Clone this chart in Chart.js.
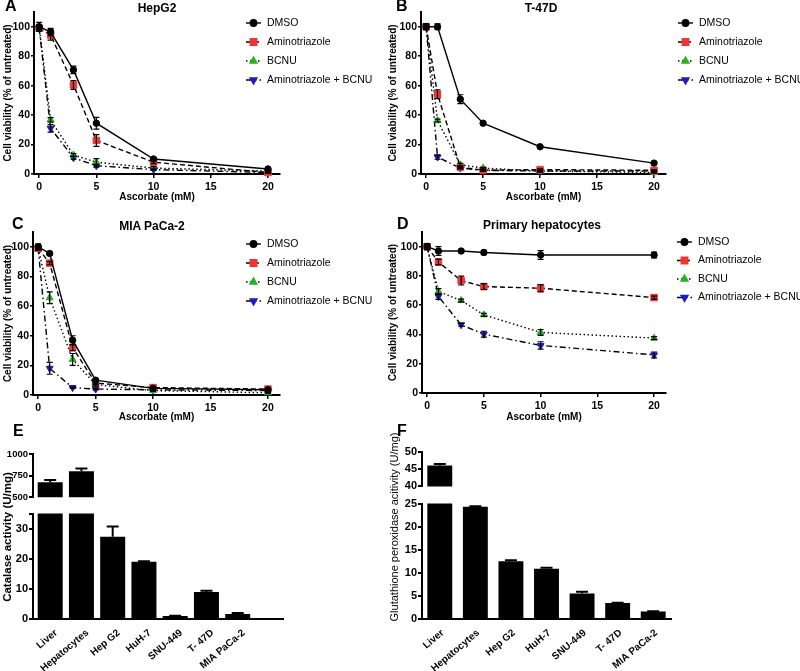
<!DOCTYPE html>
<html>
<head>
<meta charset="utf-8">
<script src="https://cdn.jsdelivr.net/npm/chart.js@4.4.1/dist/chart.umd.min.js"></script>
<style>
  body { margin: 0; width: 800px; height: 671px; background: #fff; position: relative; overflow: hidden;
         font-family: "Liberation Sans", Arial, sans-serif; color: #000; }
  canvas { position: absolute; }
  .letter { position: absolute; font: bold 16px/16px "Liberation Sans", Arial, sans-serif; }
  .ptitle { position: absolute; width: 120px; text-align: center; font: bold 12px/12px "Liberation Sans", Arial, sans-serif; }
  .ytitle { position: absolute; width: 220px; height: 14px; line-height: 14px; text-align: center;
            font-size: 11px; transform: rotate(-90deg); white-space: nowrap; }
</style>
</head>
<body>
<canvas id="cA" style="left:0;top:0" width="400" height="205"></canvas>
<canvas id="cB" style="left:385px;top:0" width="415" height="205"></canvas>
<canvas id="cC" style="left:0;top:220px" width="400" height="205"></canvas>
<canvas id="cD" style="left:385px;top:220px" width="415" height="205"></canvas>
<canvas id="cEhi" style="left:0;top:444px" width="300" height="60"></canvas>
<canvas id="cElo" style="left:0;top:506px" width="300" height="165"></canvas>
<canvas id="cFhi" style="left:385px;top:442px" width="415" height="52"></canvas>
<canvas id="cFlo" style="left:385px;top:496px" width="415" height="175"></canvas>

<div class="letter" style="left:5px;top:-2px">A</div>
<div class="letter" style="left:396px;top:-2px">B</div>
<div class="letter" style="left:12px;top:216px">C</div>
<div class="letter" style="left:397px;top:216px">D</div>
<div class="letter" style="left:13px;top:423px">E</div>
<div class="letter" style="left:397px;top:423px">F</div>
<div class="ptitle" style="left:97px;top:2px">HepG2</div>
<div class="ptitle" style="left:481px;top:2px">T-47D</div>
<div class="ptitle" style="left:92px;top:220px">MIA PaCa-2</div>
<div class="ptitle" style="left:482px;top:219px">Primary hepatocytes</div>
<div class="ytitle" style="left:-103px;top:530px;font-weight:bold;font-size:11.5px">Catalase activity (U/mg)</div>
<div class="ytitle" style="left:284px;top:520px">Glutathione peroxidase acitivity (U/mg)</div>

<script>
// dose axis + series
const doses = [0, 1, 3, 5, 10, 20];
const seriesNames = ['DMSO', 'Aminotriazole', 'BCNU', 'Aminotriazole + BCNU'];
const doseTicks = [0, 5, 10, 15, 20];
const viabilityTicks = [0, 20, 40, 60, 80, 100];

// A - HepG2
const hepDmso  = [100, 96.4, 70.7, 34.5, 10.2, 3.4];
const hepAmino = [99, 94.4, 60.5, 22.8, 8, 1];
const hepBcnu  = [100, 36.8, 12.9, 8, 4, 2];
const hepCombo = [99, 31, 11, 5.6, 3, 1];
const hepDmsoErr  = [3, 2.5, 2.5, 4, 1, 0.5];
const hepAminoErr = [2, 3.5, 3, 4, 1, 0.5];
const hepBcnuErr  = [1, 1.5, 1, 2.5, 1, 0.5];
const hepComboErr = [1, 2.5, 1, 1, 0.5, 0.5];

// B - T-47D
const t47Dmso  = [100, 100, 50.8, 34.5, 18.5, 7.4];
const t47Amino = [100, 54.2, 4.7, 2.5, 3, 2.5];
const t47Bcnu  = [100, 36.3, 6.3, 4, 2, 1];
const t47Combo = [100, 11.5, 4, 2.5, 2, 2];
const t47DmsoErr  = [2, 2, 3, 1, 0.5, 0.5];
const t47AminoErr = [2, 3, 1, 0.5, 0.5, 0.5];
const t47BcnuErr  = [1, 1, 1, 0.5, 0.5, 0.5];
const t47ComboErr = [1, 1.5, 0.5, 0.5, 0.5, 0.5];

// C - MIA PaCa-2
const miaDmso  = [100, 95.5, 37, 10, 4.5, 3.5];
const miaAmino = [99, 89, 32, 8, 5, 4];
const miaBcnu  = [99, 65.6, 24, 7, 3, 1.5];
const miaCombo = [99, 18, 5, 4, 3.5, 3];
const miaDmsoErr  = [2, 1, 3, 1, 0.5, 0.5];
const miaAminoErr = [1, 1, 2, 1, 0.5, 0.5];
const miaBcnuErr  = [1, 4, 4, 1, 0.5, 0.5];
const miaComboErr = [1, 4, 0.5, 0.5, 0.5, 0.5];

// D - primary hepatocytes
const priDmso  = [100, 97, 97, 96, 94.3, 94.3];
const priAmino = [100, 89.5, 76.8, 72.7, 71.6, 65.2];
const priBcnu  = [100, 69.3, 63.2, 53.4, 41.4, 37.5];
const priCombo = [100, 65.9, 46.6, 40.2, 32.5, 26];
const priDmsoErr  = [2, 3, 1, 1.5, 3, 2];
const priAminoErr = [2, 2, 3, 2, 2.5, 1];
const priBcnuErr  = [1, 2, 1, 1, 2, 1];
const priComboErr = [1, 2, 1, 2, 2.5, 2];

// E / F - enzyme activities
const cellLines = ['Liver', 'Hepatocytes', 'Hep G2', 'HuH-7', 'SNU-449', 'T- 47D', 'MIA PaCa-2'];
const catalase    = [675, 800, 27.3, 19.0, 0.96, 9.0, 1.7];
const catalaseErr = [25, 32, 3.4, 0.2, 0.15, 0.4, 0.3];
const catTicksHigh = [500, 750, 1000];
const catTicksLow  = [0, 10, 20, 30];
const gpx    = [46.1, 24.3, 12.5, 10.9, 5.55, 3.45, 1.6];
const gpxErr = [0.4, 0.1, 0.25, 0.2, 0.35, 0.05, 0.1];
const gpxTicksHigh = [40, 45, 50];
const gpxTicksLow  = [0, 5, 10, 15, 20, 25];

Chart.defaults.font.family = '"Liberation Sans", Arial, sans-serif';
Chart.defaults.color = '#000';
Chart.defaults.animation = false;

const tickFont = { size: 10.5, weight: 'bold' };
const catFont = { size: 10, weight: 'bold' };
const titleFont = { size: 10, weight: 'bold' };

const seriesStyles = [
  { color: '#000000', point: 'circle', rotation: 0, radius: 3.2, dash: [] },
  { color: '#ee3535', point: 'rect', rotation: 0, radius: 4.6, dash: [5, 3] },
  { color: '#22b422', point: 'triangle', rotation: 0, radius: 4, dash: [1.5, 2.5] },
  { color: '#1c1cc8', point: 'triangle', rotation: 180, radius: 4, dash: [6, 3, 1.5, 3] }
];

// error bars from dataset.errors, read through the y scale
const errorBars = {
  id: 'errorBars',
  afterDatasetsDraw(chart) {
    const ctx = chart.ctx, a = chart.chartArea, ys = chart.scales.y;
    ctx.save();
    ctx.beginPath();
    ctx.rect(a.left - 6, a.top - 6, a.right - a.left + 12, a.bottom - a.top + 8);
    ctx.clip();
    ctx.strokeStyle = '#000';
    chart.data.datasets.forEach((ds, di) => {
      if (!ds.errors) return;
      const meta = chart.getDatasetMeta(di);
      meta.data.forEach((el, i) => {
        const e = ds.errors[i];
        if (!e) return;
        const v = ds.data[i].y;
        const top = ys.getPixelForValue(v + e);
        const bot = ds.upOnly ? ys.getPixelForValue(v) : ys.getPixelForValue(v - e);
        const cap = ds.capHalf || 3;
        ctx.lineWidth = ds.errWidth || 1.2;
        ctx.beginPath();
        ctx.moveTo(el.x, top); ctx.lineTo(el.x, bot);
        ctx.moveTo(el.x - cap, top); ctx.lineTo(el.x + cap, top);
        if (!ds.upOnly) { ctx.moveTo(el.x - cap, bot); ctx.lineTo(el.x + cap, bot); }
        ctx.stroke();
      });
    });
    ctx.restore();
  }
};

// Prism-like key: dashed line + marker + name
const seriesKey = {
  id: 'seriesKey',
  afterDraw(chart, args, o) {
    if (!o || o.x === undefined) return;
    const ctx = chart.ctx;
    chart.data.datasets.forEach((ds, i) => {
      const y = o.y + i * o.gap;
      ctx.save();
      ctx.strokeStyle = '#000';
      ctx.lineWidth = 1.4;
      ctx.setLineDash(ds.borderDash || []);
      ctx.beginPath(); ctx.moveTo(o.x, y); ctx.lineTo(o.x + 15, y); ctx.stroke();
      ctx.setLineDash([]);
      ctx.fillStyle = ds.pointBackgroundColor;
      ctx.strokeStyle = ds.pointBorderColor;
      Chart.helpers.drawPoint(ctx, { pointStyle: ds.pointStyle, rotation: ds.pointRotation,
        radius: ds.pointRadius, borderWidth: 1 }, o.x + 7.5, y);
      ctx.fillStyle = '#000';
      ctx.font = '10.5px "Liberation Sans", Arial, sans-serif';
      ctx.textBaseline = 'middle';
      ctx.fillText(ds.label, o.x + 21, y);
      ctx.restore();
    });
  }
};

function lineChart(id, sets, errs, dims) {
  const datasets = sets.map((vals, k) => ({
    label: seriesNames[k],
    data: doses.map((d, i) => ({ x: d, y: vals[i] })),
    errors: errs[k],
    borderColor: '#000',
    borderWidth: 1.4,
    borderDash: seriesStyles[k].dash,
    pointStyle: seriesStyles[k].point,
    pointRotation: seriesStyles[k].rotation,
    pointRadius: seriesStyles[k].radius,
    pointBackgroundColor: seriesStyles[k].color,
    pointBorderColor: seriesStyles[k].color,
    pointBorderWidth: 1,
    tension: 0,
    clip: false
  }));
  new Chart(document.getElementById(id), {
    type: 'line',
    data: { datasets },
    options: {
      responsive: false,
      layout: { padding: { top: dims.top, right: dims.right, left: 0, bottom: 0 } },
      plugins: { legend: { display: false }, tooltip: { enabled: false }, seriesKey: dims.key },
      scales: {
        x: {
          type: 'linear', min: -0.45, max: 21.05,
          afterBuildTicks: s => { s.ticks = doseTicks.map(v => ({ value: v })); },
          afterFit: s => { s.height = dims.xh; },
          grid: { drawOnChartArea: false, tickLength: 4, color: '#000', lineWidth: 1.5 },
          border: { color: '#000', width: 2 },
          ticks: { font: tickFont, padding: 3, maxRotation: 0 },
          title: { display: true, text: 'Ascorbate (mM)', font: titleFont, padding: { top: 0, bottom: 2 } }
        },
        y: {
          min: 0, max: 110,
          afterBuildTicks: s => { s.ticks = viabilityTicks.map(v => ({ value: v })); },
          afterFit: s => { s.width = dims.yw; },
          grid: { drawOnChartArea: false, tickLength: 3, color: '#000', lineWidth: 1.5 },
          border: { color: '#000', width: 2 },
          ticks: { font: tickFont, padding: 1 },
          title: { display: true, text: 'Cell viability (% of untreated)', font: titleFont, padding: { top: 2, bottom: 0 } }
        }
      }
    },
    plugins: [errorBars, seriesKey]
  });
}

lineChart('cA', [hepDmso, hepAmino, hepBcnu, hepCombo], [hepDmsoErr, hepAminoErr, hepBcnuErr, hepComboErr],
  { top: 12, right: 120, xh: 31, yw: 34, key: { x: 246, y: 23, gap: 19 } });
lineChart('cB', [t47Dmso, t47Amino, t47Bcnu, t47Combo], [t47DmsoErr, t47AminoErr, t47BcnuErr, t47ComboErr],
  { top: 12, right: 134, xh: 31, yw: 36, key: { x: 293, y: 23, gap: 19 } });
lineChart('cC', [miaDmso, miaAmino, miaBcnu, miaCombo], [miaDmsoErr, miaAminoErr, miaBcnuErr, miaComboErr],
  { top: 12, right: 120, xh: 30, yw: 33, key: { x: 246, y: 24, gap: 19 } });
lineChart('cD', [priDmso, priAmino, priBcnu, priCombo], [priDmsoErr, priAminoErr, priBcnuErr, priComboErr],
  { top: 12, right: 134, xh: 32, yw: 37, key: { x: 292, y: 22, gap: 18.5 } });

// broken-axis bar panels: an upper and a lower chart sharing the same x layout
function barPart(id, vals, errs, cfg) {
  const labelled = cfg.ticks;
  const tickVals = cfg.extraTick !== undefined ? labelled.concat([cfg.extraTick]) : labelled;
  new Chart(document.getElementById(id), {
    type: 'bar',
    data: {
      datasets: [{
        data: vals.map((v, i) => ({ x: i, y: v })),
        errors: errs, upOnly: true, capHalf: 6, errWidth: 2,
        backgroundColor: '#000', borderWidth: 0,
        barPercentage: cfg.barPct, categoryPercentage: 1, clip: 0
      }]
    },
    options: {
      responsive: false,
      layout: { padding: { top: cfg.top, right: cfg.right, left: 0, bottom: cfg.bottom } },
      plugins: { legend: { display: false }, tooltip: { enabled: false } },
      scales: {
        x: {
          type: 'linear', display: cfg.showX, min: cfg.xmin, max: cfg.xmax, offset: false,
          afterBuildTicks: s => { s.ticks = cellLines.map((c, i) => ({ value: i })); },
          afterFit: s => { if (cfg.showX) s.height = cfg.xh; },
          grid: { display: false },
          border: { color: '#000', width: 2 },
          ticks: { font: catFont, padding: 0, labelOffset: cfg.labelShift || 0, minRotation: 40, maxRotation: 40,
                   autoSkip: false, callback: v => cellLines[v] }
        },
        y: {
          min: cfg.ymin, max: cfg.ymax,
          afterBuildTicks: s => { s.ticks = tickVals.map(v => ({ value: v })); },
          afterFit: s => { s.width = cfg.yw; },
          grid: { drawOnChartArea: false, tickLength: 4, color: '#000', lineWidth: 2 },
          border: { color: '#000', width: 2 },
          ticks: { font: { size: cfg.tickSize, weight: 'bold' }, padding: 1,
                   callback: v => labelled.includes(v) ? String(v) : '' }
        }
      }
    },
    plugins: [errorBars]
  });
}

barPart('cEhi', catalase, catalaseErr, { top: 10, bottom: 3, right: 17, yw: 33, showX: false, tickSize: 9.5,
  xmin: -0.55, xmax: 7.45, barPct: 0.8, ymin: 500, ymax: 1000, ticks: catTicksHigh });
barPart('cElo', catalase, catalaseErr, { top: 5, bottom: 0, right: 17, yw: 33, showX: true, xh: 52, labelShift: 6,
  tickSize: 11, xmin: -0.55, xmax: 7.45, barPct: 0.8, ymin: 0, ymax: 35, ticks: catTicksLow, extraTick: 35 });
barPart('cFhi', gpx, gpxErr, { top: 10, bottom: 3, right: 129, yw: 37, showX: false, tickSize: 11,
  xmin: -0.5, xmax: 6.5, barPct: 0.7, ymin: 40, ymax: 50, ticks: gpxTicksHigh });
barPart('cFlo', gpx, gpxErr, { top: 5, bottom: 0, right: 129, yw: 37, showX: true, xh: 52, labelShift: 3,
  tickSize: 11, xmin: -0.5, xmax: 6.5, barPct: 0.7, ymin: 0, ymax: 25, ticks: gpxTicksLow });
</script>
</body>
</html>
